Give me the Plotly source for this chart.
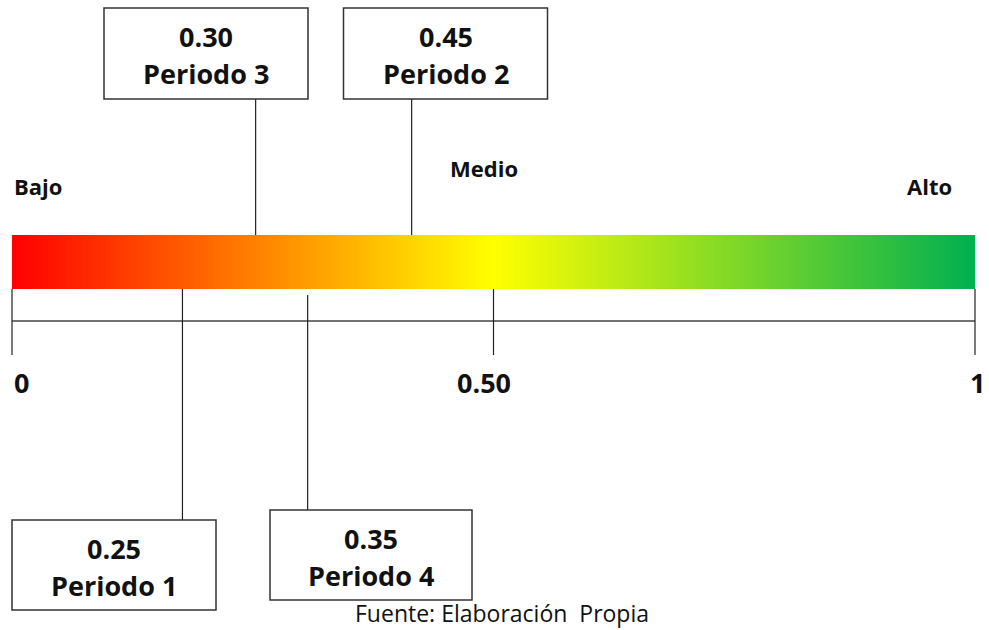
import numpy as np
import plotly.graph_objects as go

# ---- data ----
periods = ["Periodo 1", "Periodo 2", "Periodo 3", "Periodo 4"]
values = ["0.25", "0.45", "0.30", "0.35"]            # labelled values
pointer_pos = [0.177, 0.415, 0.253, 0.307]           # where each pointer meets the scale
tick_vals = [0, 0.5, 1]
tick_text = ["0", "0.50", "1"]
level_names = ["Bajo", "Medio", "Alto"]
source_text = "Fuente: Elaboración&nbsp;&nbsp;Propia"

# ---- layout helpers (pixel geometry) ----
W, H = 989, 630
X0, X1 = 12, 975                      # pixels of scale 0 and 1
def px(p):                            # pixel -> data x
    return (p - X0) / (X1 - X0)

BAR_TOP, BAR_BOT = 235, 289
AXIS_Y = 321
TICK_BOT = 355
FONT = "'Open Sans', Lato, sans-serif"
BOX_FS = 27

fig = go.Figure()

# gradient bar
n = 400
edges = np.linspace(0, 1, n + 1)
centers = (edges[:-1] + edges[1:]) / 2
fig.add_trace(go.Heatmap(
    x=edges, y=[BAR_TOP, BAR_BOT], z=[centers],
    colorscale=[[0, "#FF0000"], [0.5, "#FFFF00"], [1, "#00B050"]],
    zmin=0, zmax=1, showscale=False, hoverinfo="skip",
))

shapes = []
# axis line
shapes.append(dict(type="line", x0=0, x1=1, y0=AXIS_Y, y1=AXIS_Y,
                   line=dict(color="#444444", width=1.6)))
# ticks
for t in tick_vals:
    shapes.append(dict(type="line", x0=t, x1=t, y0=BAR_BOT, y1=TICK_BOT,
                       line=dict(color="#222222", width=1.2)))

# boxes: (center_x_px, top_px, width, height, line_y_start, line_y_end)
box_geom = {
    "Periodo 3": (206, 8, 204, 91, 99, BAR_TOP),
    "Periodo 2": (445.5, 8, 204, 91, 99, BAR_TOP),
    "Periodo 1": (114, 520, 204, 90, BAR_BOT, 520),
    "Periodo 4": (371, 510, 202, 90, 295, 510),
}

annotations = []
for name, val, pos in zip(periods, values, pointer_pos):
    cx, top, bw, bh, ly0, ly1 = box_geom[name]
    shapes.append(dict(type="line", x0=pos, x1=pos, y0=ly0, y1=ly1,
                       line=dict(color="#222222", width=1.2)))
    shapes.append(dict(type="rect", x0=px(cx - bw / 2), x1=px(cx + bw / 2),
                       y0=top, y1=top + bh,
                       line=dict(color="#333333", width=1.5), fillcolor="white"))
    for txt, dy in ((val, 28), (name, 65)):
        annotations.append(dict(
            x=px(cx), y=top + dy, xref="x", yref="y", showarrow=False,
            text=f"<b>{txt}</b>",
            font=dict(family=FONT, size=BOX_FS, color="#111111"),
            xanchor="center", yanchor="middle",
        ))

# level names
level_pos = [(12, 186, "left"), (448, 168, "left"), (954, 186, "right")]
for name, (lx, ly, anc) in zip(level_names, level_pos):
    annotations.append(dict(
        x=px(lx), y=ly, xref="x", yref="y", showarrow=False,
        text=f"<b>{name}</b>", xanchor=anc, yanchor="middle",
        font=dict(family=FONT, size=22, color="#111111"),
    ))

# tick labels
tick_anchor = ["left", "center", "right"]
tick_shift = [0, -10, 12]
for t, txt, anc, sh in zip(tick_vals, tick_text, tick_anchor, tick_shift):
    annotations.append(dict(
        x=t, y=382, xref="x", yref="y", showarrow=False,
        text=f"<b>{txt}</b>", xanchor=anc, yanchor="middle", xshift=sh,
        font=dict(family=FONT, size=BOX_FS, color="#111111"),
    ))

# source
annotations.append(dict(
    x=px(502), y=613, xref="x", yref="y", showarrow=False,
    text=source_text, xanchor="center", yanchor="middle",
    font=dict(family=FONT, size=23, color="#111111"),
))

fig.update_layout(
    width=W, height=H,
    margin=dict(l=0, r=0, t=0, b=0),
    paper_bgcolor="white", plot_bgcolor="white",
    xaxis=dict(range=[px(0), px(W)], visible=False, fixedrange=True),
    yaxis=dict(range=[H, 0], visible=False, fixedrange=True),
    shapes=shapes, annotations=annotations,
    showlegend=False,
)

fig.write_html("out.html", config={"displayModeBar": False},
               post_script="document.body.style.margin='0';document.body.style.overflow='hidden';")
